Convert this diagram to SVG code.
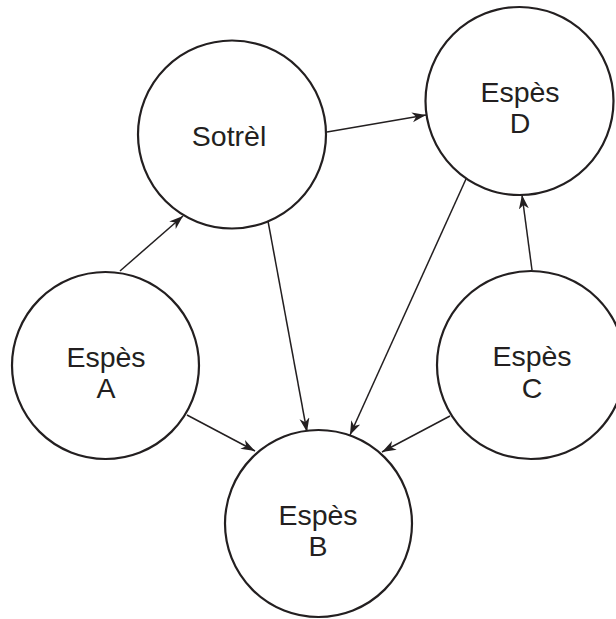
<svg xmlns="http://www.w3.org/2000/svg" width="616" height="619" viewBox="0 0 616 619">
<defs>
<style>
.node circle{fill:#fff;stroke:#231f20;stroke-width:2.2}
.node text{font-family:"Liberation Sans",Arial,sans-serif;font-size:28.5px;fill:#231f20;text-anchor:middle}
.edge{stroke:#231f20;stroke-width:1.5;fill:none;marker-end:url(#arr)}
</style>
<marker id="arr" markerUnits="userSpaceOnUse" markerWidth="16" markerHeight="12" refX="14" refY="5" orient="auto">
<path d="M0,0 L14,5 L0,10 L4,5 z" fill="#231f20"/>
</marker>
</defs>
<rect width="616" height="619" fill="#fff"/>
<g id="connectors">
<line class="edge" x1="120" y1="271" x2="183" y2="216"/>
<line class="edge" x1="327" y1="132" x2="426" y2="115"/>
<line class="edge" x1="268" y1="221" x2="307" y2="432"/>
<line class="edge" x1="466" y1="179" x2="350" y2="435"/>
<line class="edge" x1="532" y1="270" x2="522" y2="195"/>
<line class="edge" x1="187" y1="415" x2="255" y2="451"/>
<line class="edge" x1="450" y1="416" x2="382" y2="452"/>
</g>
<g id="sotrel" class="node"><circle cx="232" cy="134.5" r="94"/><text x="229" y="146">Sotrèl</text></g>
<g id="especeD" class="node"><circle cx="519.5" cy="101" r="94"/><text x="520" y="102">Espès</text><text x="520" y="133">D</text></g>
<g id="especeA" class="node"><circle cx="105.5" cy="365.5" r="93.5"/><text x="106" y="367">Espès</text><text x="106" y="398">A</text></g>
<g id="especeC" class="node"><circle cx="531" cy="365" r="94"/><text x="532" y="366">Espès</text><text x="532" y="398">C</text></g>
<g id="especeB" class="node"><circle cx="318.5" cy="523.5" r="93.5"/><text x="318" y="525">Espès</text><text x="318" y="556">B</text></g>
</svg>
